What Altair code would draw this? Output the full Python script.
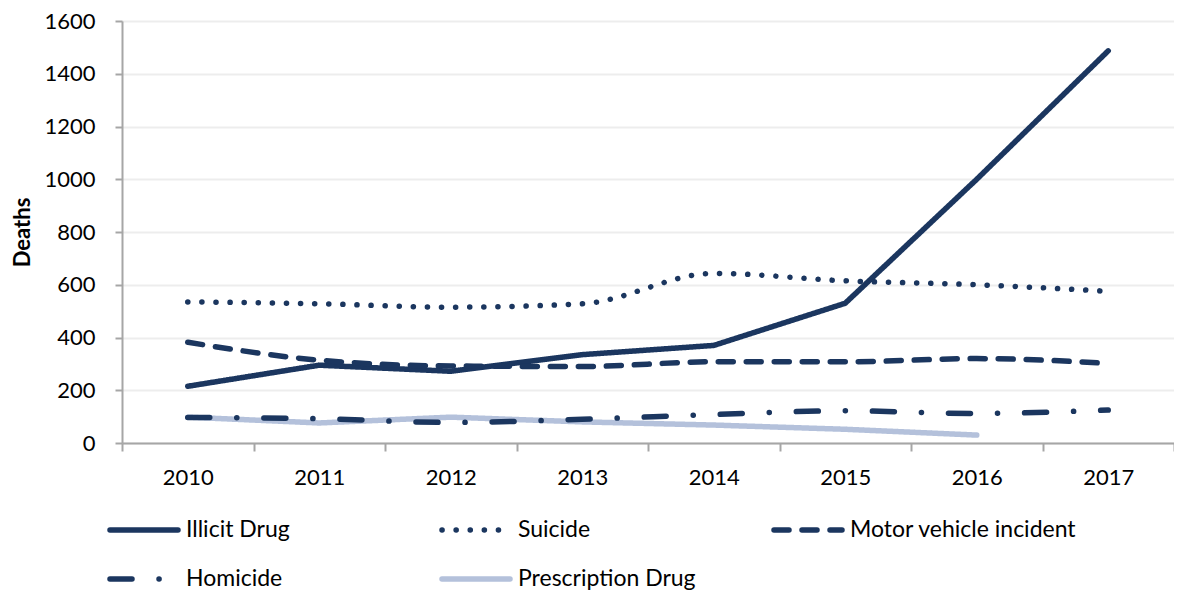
import altair as alt
import pandas as pd

years = ["2010", "2011", "2012", "2013", "2014", "2015", "2016", "2017"]
series_names = ["Illicit Drug", "Suicide", "Motor vehicle incident", "Homicide", "Prescription Drug"]
illicit = [215, 295, 272, 335, 370, 530, 1000, 1487]
suicide = [535, 528, 515, 528, 643, 615, 600, 575]
motor = [382, 314, 292, 290, 308, 308, 320, 302]
homicide = [97, 92, 78, 90, 108, 122, 112, 125]
prescription = [98, 76, 98, 80, 68, 52, 30, None]

values = [illicit, suicide, motor, homicide, prescription]
rows = []
for name, vals in zip(series_names, values):
    for y, v in zip(years, vals):
        if v is not None:
            rows.append({"year": y, "series": name, "deaths": v})
df = pd.DataFrame(rows)

NAVY = "#1B365F"
LIGHT = "#B4C1DB"
FONT = "Lato"

color_scale = alt.Scale(domain=series_names, range=[NAVY, NAVY, NAVY, NAVY, LIGHT])
dash_scale = alt.Scale(domain=series_names,
                       range=[[1, 0], [0.1, 14], [15, 13], [22, 27, 0.1, 27], [1, 0]])

legend = alt.Legend(
    title=None, orient="none", legendX=-15, legendY=472, direction="horizontal",
    columns=3, symbolType="stroke", symbolSize=4624, symbolStrokeWidth=5.5,
    labelFontSize=23, labelFont=FONT, labelColor="#000000", gridAlign="all",
    columnPadding=18, rowPadding=-25, labelLimit=400, labelOffset=5,
)

base = alt.Chart(df).encode(
    x=alt.X("year:O", scale=alt.Scale(type="band", paddingInner=0, paddingOuter=0),
            bandPosition=0.5,
            axis=alt.Axis(title=None, tickBand="extent", labelAngle=0, labelFontSize=22,
                          labelFont=FONT, labelColor="#000000", tickSize=8, tickWidth=2,
                          tickColor="#A6A6A6", domainColor="#A6A6A6", domainWidth=2,
                          labelPadding=16, grid=False)),
    y=alt.Y("deaths:Q", scale=alt.Scale(domain=[0, 1600], nice=False),
            axis=alt.Axis(title="Deaths", values=list(range(0, 1601, 200)), format="d",
                          labelFontSize=22, labelFont=FONT, labelColor="#000000",
                          tickSize=7, tickWidth=2, tickColor="#A6A6A6",
                          domainColor="#A6A6A6", domainWidth=2, labelPadding=20,
                          titleFont=FONT, titleFontSize=22, titleFontWeight="bold",
                          titleColor="#000000", titlePadding=9,
                          gridColor="#EDEDED", gridWidth=2)),
    color=alt.Color("series:N", scale=color_scale, sort=series_names, legend=legend),
    strokeDash=alt.StrokeDash("series:N", scale=dash_scale, sort=series_names, legend=legend),
)

straight = base.transform_filter(
    alt.FieldOneOfPredicate(field="series", oneOf=["Illicit Drug", "Prescription Drug"])
).mark_line(strokeWidth=5.5, strokeCap="round", strokeJoin="round")

smooth = base.transform_filter(
    alt.FieldOneOfPredicate(field="series", oneOf=["Suicide", "Motor vehicle incident", "Homicide"])
).mark_line(strokeWidth=5.5, strokeCap="round", strokeJoin="round", interpolate="monotone")

chart = alt.layer(straight, smooth).properties(
    width=1052, height=422,
    autosize=alt.AutoSizeParams(type="none"),
    padding={"left": 114, "top": 13, "right": 0, "bottom": 147},
).configure_view(stroke=None).configure(background="white")

patch = [{"op": "add", "path": "/legends/0/encode",
          "value": {"symbols": {"update": {"strokeCap": {"value": "round"}}}}}]

chart.save("out.html", embed_options={"renderer": "svg", "actions": False, "patch": patch})
